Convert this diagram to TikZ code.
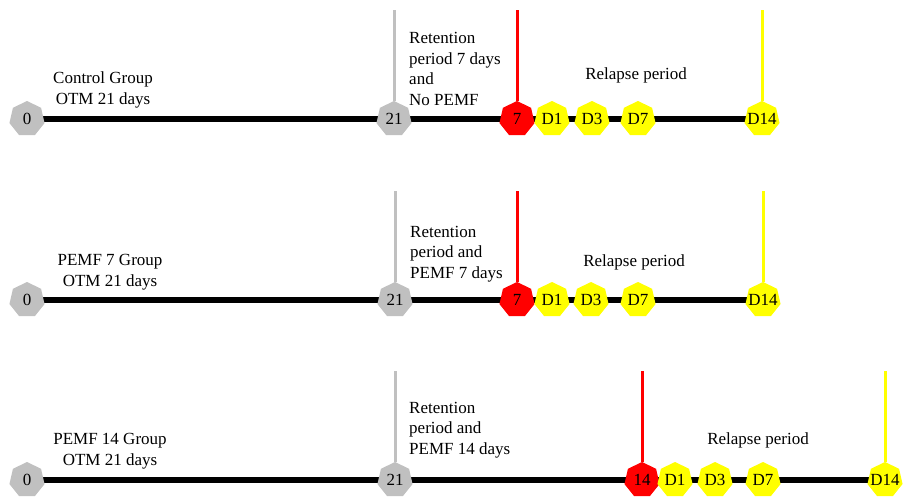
\documentclass[tikz,border=0pt]{standalone}
\usepackage{fontspec}
\setmainfont{Liberation Serif}
\usetikzlibrary{shapes.geometric,backgrounds,positioning}
\definecolor{ptgray}{RGB}{192,192,192}
\definecolor{ptred}{RGB}{255,0,0}
\definecolor{ptyellow}{RGB}{255,255,0}
\newcommand{\hc}[1]{\makebox[0pt]{#1}}
\tikzset{
    hept/.style={ % requires library shapes.geometric
        regular polygon,
        regular polygon sides=7,
        minimum size=36pt,
        inner sep=0pt
    },
    startnode/.style={hept, fill=ptgray},
    stopnode/.style={hept, fill=ptred},
    daynode/.style={hept, fill=ptyellow},
    timeline/.style={line width=6.5pt, black},
    vline/.style={line width=3pt},
    caption/.style={inner sep=0pt, align=center},
    period/.style={inner sep=0pt, align=left, anchor=west}
}

\begin{document}
\begin{tikzpicture}[x=1pt, y=-1pt, font=\fontsize{17}{20.5}\selectfont]
        \useasboundingbox (0,0) rectangle (904,498);
        \def\rowA{119}
        \def\rowB{300}
        \def\rowC{480}

        % control group
        \node[startnode] (a0) at (27,\rowA) {\hc{0}};
        \node[startnode] (a21) at (394,\rowA) {\hc{21}};
        \node[stopnode] (aR) at (517,\rowA) {\hc{7}};
        \node[daynode] (aD1) at (552,\rowA) {\hc{D1}};
        \node[daynode] (aD3) at (592,\rowA) {\hc{D3}};
        \node[daynode] (aD7) at (638,\rowA) {\hc{D7}};
        \node[daynode] (aD14) at (762,\rowA) {\hc{D14}};
        \coordinate (aTop21) at (394,10);
        \coordinate (aTopR) at (517,10);
        \coordinate (aTopD14) at (762,10);
        \node[caption] (aGroup) at (103,90) {Control Group\\OTM 21 days};
        \node[period] (aRet) at (409,69) {Retention\\period 7 days\\and\\No PEMF};
        \node[caption] (aRel) at (636,75) {Relapse period};

        % PEMF 7 group
        \node[startnode] (b0) at (27,\rowB) {\hc{0}};
        \node[startnode] (b21) at (395,\rowB) {\hc{21}};
        \node[stopnode] (bR) at (517,\rowB) {\hc{7}};
        \node[daynode] (bD1) at (552,\rowB) {\hc{D1}};
        \node[daynode] (bD3) at (591,\rowB) {\hc{D3}};
        \node[daynode] (bD7) at (638,\rowB) {\hc{D7}};
        \node[daynode] (bD14) at (763,\rowB) {\hc{D14}};
        \coordinate (bTop21) at (395,191);
        \coordinate (bTopR) at (517,191);
        \coordinate (bTopD14) at (763,191);
        \node[caption] (bGroup) at (110,272) {PEMF 7 Group\\OTM 21 days};
        \node[period] (bRet) at (410,254) {Retention\\period and\\PEMF 7 days};
        \node[caption] (bRel) at (634,262) {Relapse period};

        % PEMF 14 group
        \node[startnode] (c0) at (27,\rowC) {\hc{0}};
        \node[startnode] (c21) at (395,\rowC) {\hc{21}};
        \node[stopnode] (cR) at (642,\rowC) {\hc{14}};
        \node[daynode] (cD1) at (675,\rowC) {\hc{D1}};
        \node[daynode] (cD3) at (715,\rowC) {\hc{D3}};
        \node[daynode] (cD7) at (763,\rowC) {\hc{D7}};
        \node[daynode] (cD14) at (885,\rowC) {\hc{D14}};
        \coordinate (cTop21) at (395,371);
        \coordinate (cTopR) at (642,371);
        \coordinate (cTopD14) at (885,371);
        \node[caption] (cGroup) at (110,451) {PEMF 14 Group\\OTM 21 days};
        \node[period] (cRet) at (409,430) {Retention\\period and\\PEMF 14 days};
        \node[caption] (cRel) at (758,440) {Relapse period};

        \begin{scope}[on background layer]
            \draw[timeline] (a0.center) -- (aD14.center);
            \draw[timeline] (b0.center) -- (bD14.center);
            \draw[timeline] (c0.center) -- (cD14.center);
        \end{scope}

        \draw[vline, ptgray] (aTop21) -- (a21);
        \draw[vline, ptred] (aTopR) -- (aR);
        \draw[vline, ptyellow] (aTopD14) -- (aD14);
        \draw[vline, ptgray] (bTop21) -- (b21);
        \draw[vline, ptred] (bTopR) -- (bR);
        \draw[vline, ptyellow] (bTopD14) -- (bD14);
        \draw[vline, ptgray] (cTop21) -- (c21);
        \draw[vline, ptred] (cTopR) -- (cR);
        \draw[vline, ptyellow] (cTopD14) -- (cD14);
    \end{tikzpicture}
\end{document}
